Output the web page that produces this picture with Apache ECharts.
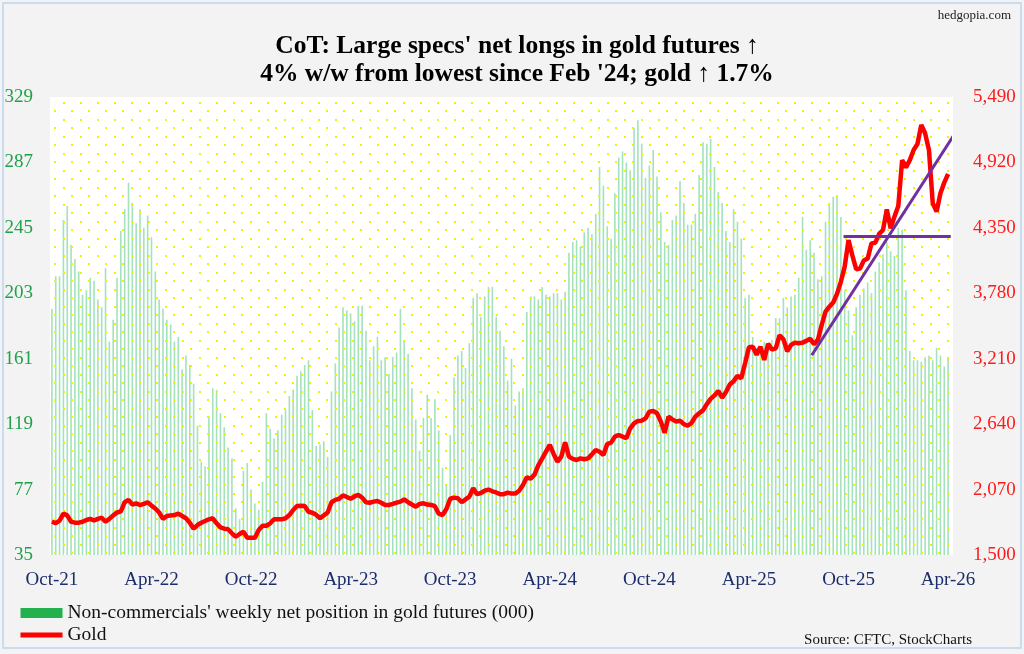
<!DOCTYPE html>
<html lang="en">
<head>
  <meta charset="UTF-8">
  <title>CoT: gold futures</title>
  <script src="https://cdn.jsdelivr.net/npm/echarts@6/dist/echarts.min.js"></script>
  <style>
    html, body { margin: 0; padding: 0; background: #f3f3f3; }
    #main { width: 1024px; height: 654px; }
  </style>
</head>
<body>
<div id="main"></div>
<script>
  // x axis tick labels, one every 26 weeks
  const xTickLabels = ['Oct-21', 'Apr-22', 'Oct-22', 'Apr-23', 'Oct-23', 'Apr-24', 'Oct-24', 'Apr-25', 'Oct-25', 'Apr-26'];

  // non-commercials' weekly net position in gold futures (000)
  const netLongs = [
    193, 214, 214, 250, 259, 234, 225, 217, 202, 205, 213, 211, 199, 194, 219, 172, 186, 213, 243, 257,
    274, 261, 248, 257, 245, 253, 239, 217, 199, 193, 186, 183, 172, 175, 154, 163, 157, 145, 118, 95,
    92, 124, 142, 141, 126, 117, 104, 97, 65, 58, 89, 94, 77, 68, 64, 82, 126, 116, 110, 115,
    125, 128, 137, 141, 150, 153, 157, 160, 128, 105, 106, 108, 98, 140, 158, 181, 194, 192, 190, 185,
    195, 195, 179, 160, 169, 175, 160, 162, 151, 162, 165, 193, 173, 164, 142, 122, 102, 123, 138, 123,
    135, 115, 91, 80, 112, 149, 163, 166, 155, 171, 200, 203, 188, 201, 207, 207, 188, 179, 169, 147,
    161, 131, 140, 142, 191, 201, 201, 199, 207, 202, 201, 203, 203, 199, 204, 229, 236, 237, 233, 242,
    245, 241, 254, 284, 272, 246, 238, 267, 290, 294, 287, 282, 309, 314, 299, 277, 285, 295, 278, 255,
    236, 234, 250, 253, 275, 261, 247, 247, 254, 279, 300, 299, 302, 284, 268, 261, 243, 236, 257, 249,
    238, 200, 202, 175, 168, 165, 172, 170, 173, 187, 187, 200, 194, 201, 202, 213, 252, 231, 237, 229,
    212, 214, 249, 261, 265, 266, 252, 205, 192, 176, 194, 202, 206, 210, 203, 217, 223, 228, 236, 230,
    227, 245, 244, 205, 166, 160, 160, 159, 162, 163, 160, 168, 163, 156, 162
  ];

  // gold, weekly close ($/oz)
  const goldPrice = [
    1790, 1778, 1800, 1860, 1845, 1790, 1782, 1782, 1790, 1805, 1815, 1800, 1815, 1825, 1790, 1815, 1845, 1870, 1880, 1960,
    1980, 1940, 1950, 1935, 1945, 1960, 1930, 1905, 1870, 1815, 1840, 1845, 1848, 1860, 1840, 1820, 1781, 1729, 1761, 1781,
    1796, 1811, 1820, 1776, 1741, 1729, 1724, 1689, 1659, 1683, 1703, 1651, 1651, 1651, 1718, 1755, 1755, 1776, 1811, 1811,
    1811, 1820, 1848, 1892, 1927, 1930, 1927, 1877, 1868, 1850, 1820, 1845, 1870, 1960, 1980, 1990, 2020, 2005, 1990, 2010,
    2023, 2000, 1960, 1955, 1965, 1970, 1955, 1936, 1936, 1945, 1956, 1965, 1985, 1960, 1940, 1921, 1945, 1950, 1940, 1936,
    1925, 1860, 1848, 1900, 1990, 2000, 1995, 1960, 1985, 2008, 2081, 2030, 2040, 2060, 2070, 2055, 2045, 2030, 2030, 2043,
    2035, 2035, 2060, 2110, 2177, 2165, 2200, 2280, 2340, 2400, 2460, 2380, 2313, 2357, 2481, 2357, 2337, 2328, 2342, 2334,
    2342, 2377, 2415, 2400, 2371, 2467, 2479, 2531, 2545, 2531, 2517, 2604, 2647, 2668, 2670, 2691, 2749, 2755, 2735, 2662,
    2566, 2705, 2682, 2662, 2670, 2640, 2626, 2650, 2705, 2735, 2760, 2815, 2860, 2890, 2930, 2870, 2920, 2985, 3015, 3060,
    3040, 3170, 3310, 3315, 3245, 3315, 3200, 3340, 3290, 3300, 3415, 3380, 3275, 3330, 3350, 3345, 3350, 3365, 3385, 3335,
    3375, 3505, 3620, 3663, 3700, 3775, 3880, 4012, 4244, 4110, 3990, 3995, 4065, 4082, 4215, 4221, 4297, 4331, 4510, 4346,
    4448, 4540, 4940, 4877, 4940, 5029, 5081, 5247, 5174, 5029, 4564, 4491, 4651, 4744, 4819
  ];

  // hand-drawn trend lines: [week index, gold price]
  const trendUp = [[198.4, 3240], [236.1, 5188]];
  const trendFlat = [[206.7, 4275], [234.7, 4275]];

  // weekly categories
  const weeks = [];
  const start = new Date(Date.UTC(2021, 9, 5));
  for (let i = 0; i < netLongs.length; i++) {
    const d = new Date(start.getTime() + i * 7 * 86400000);
    weeks.push(d.toISOString().slice(0, 10));
  }

  const SERIF = 'Liberation Serif';
  const barName = "Non-commercials' weekly net position in gold futures (000)";

  //yellow dot pattern of the plot area
  function dotTile() {
    const c = document.createElement('canvas');
    c.width = 17;
    c.height = 17;
    const ctx = c.getContext('2d');
    ctx.fillStyle = '#f2f200';
    ctx.fillRect(3, 8, 2, 2);
    ctx.fillRect(12, 0, 2, 2);
    return c;
  }

  const option = {
    backgroundColor: '#f3f3f3',
    animation: false,
    title: [
      {
        text: "CoT: Large specs' net longs in gold futures ↑\n4% w/w from lowest since Feb '24; gold ↑ 1.7%",
        left: 512,
        top: 27,
        textAlign: 'center',
        textStyle: { fontFamily: SERIF, fontWeight: 'bold', fontSize: 25.5, lineHeight: 28, color: '#000' }
      },
      {
        text: 'hedgopia.com',
        right: 8,
        top: 4,
        textStyle: { fontFamily: SERIF, fontWeight: 'normal', fontSize: 13, color: '#222' }
      },
      {
        text: 'Source: CFTC, StockCharts',
        right: 47,
        top: 628,
        textStyle: { fontFamily: SERIF, fontWeight: 'normal', fontSize: 15, color: '#111' }
      }
    ],
    legend: {
      orient: 'vertical',
      left: 18,
      top: 603,
      padding: 0,
      itemWidth: 42,
      itemHeight: 10,
      itemGap: 2,
      textStyle: { fontFamily: SERIF, fontSize: 19.5, color: '#111', lineHeight: 20 },
      data: [
        { name: barName, icon: 'rect', itemStyle: { color: '#22b14c' } },
        {
          name: 'Gold',
          itemStyle: { color: 'rgba(0,0,0,0)', borderColor: 'rgba(0,0,0,0)' },
          lineStyle: { color: '#ff0000', width: 5 }
        }
      ]
    },
    grid: { left: 50, right: 74, top: 97, bottom: 99 },
    graphic: [
      {
        type: 'rect', z: -10, silent: true,
        shape: { x: 50, y: 97, width: 903, height: 458 },
        style: { fill: '#ffffff' }
      },
      {
        type: 'rect', z: 3, silent: true,
        shape: { x: 50, y: 97, width: 903, height: 458 },
        style: { fill: { image: dotTile(), repeat: 'repeat' } }
      },
      {
        type: 'rect', z: 10, silent: true,
        shape: { x: 3, y: 3, width: 1018, height: 645 },
        style: { fill: 'none', stroke: '#c9dcf0', lineWidth: 2 }
      }
    ],
    xAxis: [
      {
        type: 'category',
        data: weeks,
        boundaryGap: true,
        axisLine: { show: false },
        axisTick: { show: false },
        splitLine: { show: false },
        axisLabel: {
          interval: 25,
          margin: 16,
          color: '#1c2d6b',
          fontFamily: SERIF,
          fontSize: 19,
          formatter: (v, i) => xTickLabels[Math.round(i / 26)]
        }
      },
      { type: 'value', min: -0.5, max: netLongs.length - 0.5, show: false }
    ],
    yAxis: [
      {
        type: 'value', position: 'left', min: 35, max: 329, interval: 42,
        axisLine: { show: false }, axisTick: { show: false }, splitLine: { show: false },
        axisLabel: { color: '#1fa34a', fontFamily: SERIF, fontSize: 19, margin: 17 }
      },
      {
        type: 'value', position: 'right', min: 1500, max: 5490, interval: 570,
        axisLine: { show: false }, axisTick: { show: false }, splitLine: { show: false },
        axisLabel: {
          color: '#ff1a1a', fontFamily: SERIF, fontSize: 19, margin: 23,
          formatter: v => v.toLocaleString('en-US')
        }
      }
    ],
    series: [
      {
        name: barName,
        type: 'bar',
        xAxisIndex: 0,
        yAxisIndex: 0,
        data: netLongs,
        barWidth: 1.6,
        itemStyle: { color: '#a3e2bb' },
        z: 2,
        silent: true
      },
      {
        name: 'Gold',
        type: 'line',
        xAxisIndex: 0,
        yAxisIndex: 1,
        data: goldPrice,
        symbol: 'none',
        lineStyle: { color: '#ff0000', width: 4.5 },
        itemStyle: { color: '#ff0000' },
        z: 5,
        silent: true
      },
      {
        name: 'trendUp',
        type: 'line',
        xAxisIndex: 1,
        yAxisIndex: 1,
        data: trendUp,
        symbol: 'none',
        clip: false,
        lineStyle: { color: '#7030a0', width: 3 },
        z: 6,
        silent: true
      },
      {
        name: 'trendFlat',
        type: 'line',
        xAxisIndex: 1,
        yAxisIndex: 1,
        data: trendFlat,
        symbol: 'none',
        clip: false,
        lineStyle: { color: '#7030a0', width: 3 },
        z: 6,
        silent: true
      }
    ]
  };

  const myChart = echarts.init(document.getElementById('main'));
  myChart.setOption(option);
</script>
</body>
</html>
